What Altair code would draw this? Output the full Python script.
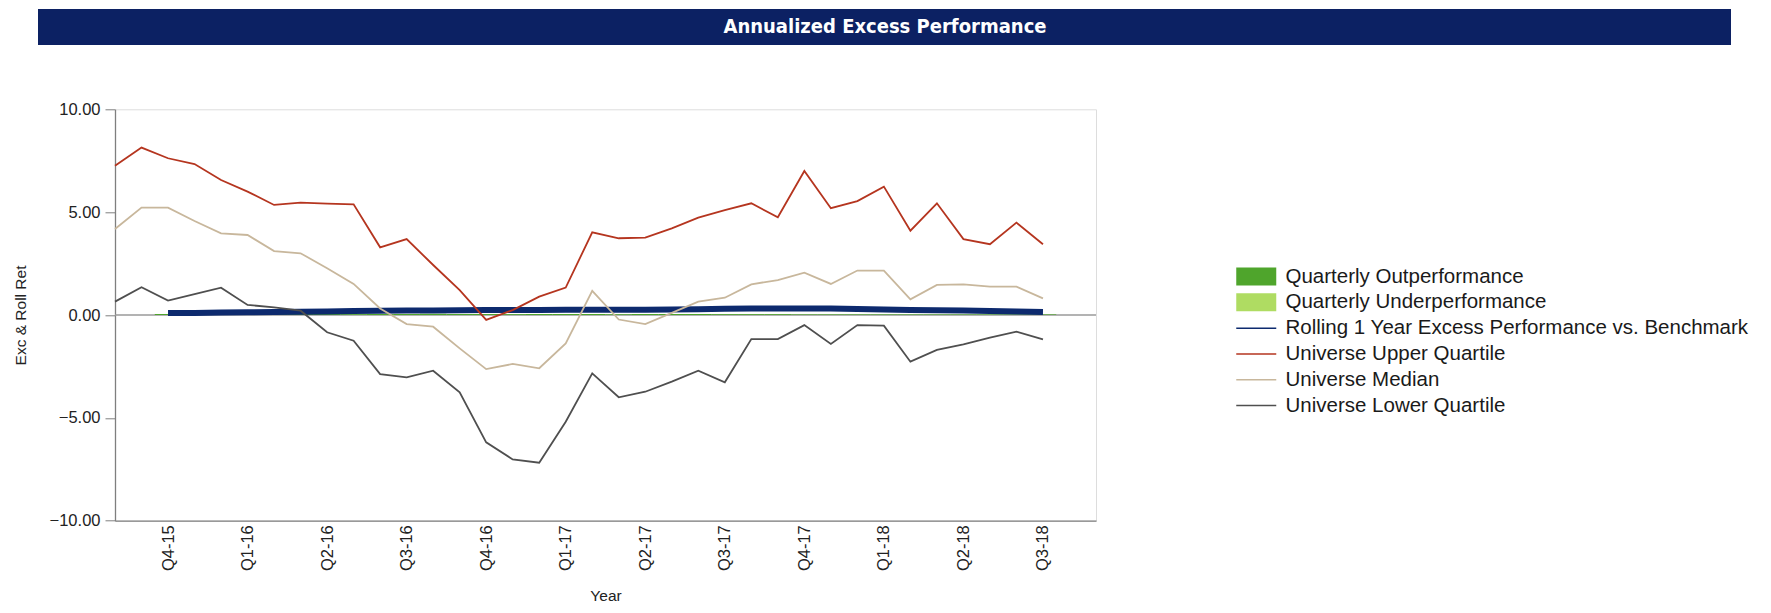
import altair as alt
import pandas as pd

# ---------------- data ----------------
quarter_labels = ["Q4-15", "Q1-16", "Q2-16", "Q3-16", "Q4-16", "Q1-17",
                  "Q2-17", "Q3-17", "Q4-17", "Q1-18", "Q2-18", "Q3-18"]
quarter_pos = [2, 5, 8, 11, 14, 17, 20, 23, 26, 29, 32, 35]

upper = [7.26, 8.14, 7.62, 7.34, 6.56, 6.00, 5.35, 5.46, 5.41, 5.38, 3.29, 3.69,
         2.43, 1.21, -0.24, 0.24, 0.89, 1.33, 4.02, 3.73, 3.76, 4.21, 4.73, 5.10,
         5.43, 4.75, 7.00, 5.19, 5.54, 6.24, 4.10, 5.43, 3.69, 3.44, 4.49, 3.44]
median = [4.18, 5.22, 5.22, 4.57, 3.97, 3.89, 3.11, 3.00, 2.27, 1.51, 0.32, -0.44,
          -0.57, -1.62, -2.63, -2.38, -2.59, -1.38, 1.17, -0.22, -0.44, 0.10, 0.65, 0.84,
          1.49, 1.70, 2.06, 1.51, 2.16, 2.16, 0.76, 1.46, 1.49, 1.38, 1.38, 0.81]
lower = [0.65, 1.35, 0.70, 1.02, 1.33, 0.49, 0.37, 0.21, -0.84, -1.25, -2.87, -3.03,
         -2.71, -3.76, -6.19, -7.02, -7.18, -5.19, -2.84, -4.00, -3.73, -3.24, -2.71, -3.27,
         -1.17, -1.17, -0.49, -1.41, -0.49, -0.52, -2.27, -1.70, -1.43, -1.10, -0.81, -1.18]
rolling_start = 2
rolling = [0.10, 0.10, 0.12, 0.13, 0.14, 0.16, 0.17, 0.19, 0.21, 0.22, 0.22, 0.23,
           0.24, 0.24, 0.24, 0.25, 0.25, 0.26, 0.26, 0.27, 0.28, 0.30, 0.32, 0.31,
           0.32, 0.31, 0.29, 0.27, 0.24, 0.23, 0.22, 0.20, 0.17, 0.15]
quarterly_excess = [0.05, 0.05, 0.04, 0.05, 0.06, 0.05, 0.05, 0.04, 0.05, 0.05, 0.06, 0.05,
                    0.05, 0.04, 0.05, 0.05, 0.05, 0.04, 0.05, 0.05, 0.05, 0.04, 0.04, 0.04,
                    0.03, 0.03, 0.03, 0.03, 0.03, 0.03, 0.03, 0.03, 0.03, 0.03]

SERIES = ["Quarterly Outperformance", "Quarterly Underperformance",
          "Rolling 1 Year Excess Performance vs. Benchmark",
          "Universe Upper Quartile", "Universe Median", "Universe Lower Quartile"]
COLORS = ["#4fa52c", "#afdc62", "#0d2a6e", "#b5351f", "#c8b79c", "#4f4f4f"]
RECT = "M-2,-0.9H2V0.9H-2Z"
LINE = "M-2,-0.075H2V0.075H-2Z"
SHAPES = [RECT, RECT, LINE, LINE, LINE, LINE]

TITLE = "Annualized Excess Performance"

# ---------------- tables ----------------
rows = []
for name, vals, start in [(SERIES[3], upper, 0), (SERIES[4], median, 0),
                          (SERIES[5], lower, 0), (SERIES[2], rolling, rolling_start)]:
    for i, v in enumerate(vals):
        rows.append({"idx": start + i, "value": v, "series": name})
lines_df = pd.DataFrame(rows)

bars_df = pd.DataFrame({
    "idx": [rolling_start + i for i in range(len(quarterly_excess))],
    "value": quarterly_excess,
})
bars_df["series"] = [SERIES[0] if v >= 0 else SERIES[1] for v in bars_df["value"]]

W, H = 981, 411.4
FONT = "Liberation Sans"

xscale = alt.Scale(domain=[0, 37], nice=False, zero=False)
yscale = alt.Scale(domain=[-10, 10], nice=False)
cscale = alt.Scale(domain=SERIES, range=COLORS)
sscale = alt.Scale(domain=SERIES, range=SHAPES)

label_expr = ("[" + ",".join(f"'{l}'" for l in quarter_labels) + "]"
              "[indexof([" + ",".join(str(p) for p in quarter_pos) + "], datum.value)]")

x_axis = alt.Axis(values=quarter_pos, labelExpr=label_expr, labelAngle=270,
                  labelAlign="right", labelBaseline="middle", labelFont=FONT,
                  labelFontSize=16.5, labelColor="#222222", labelPadding=4,
                  ticks=False, tickSize=0, labelFlush=False, grid=False,
                  domainColor="#7f7f7f", domainWidth=1.3, title="Year", titleFont=FONT,
                  titleFontSize=15.5, titleFontWeight="normal", titleColor="#222222",
                  titleX=W / 2, titleY=75, titleBaseline="middle", titleAlign="center")
y_axis = alt.Axis(values=[-10, -5, 0, 5, 10], format=".2f", labelFont=FONT,
                  labelFontSize=16.5, labelColor="#222222", tickSize=10,
                  tickColor="#7f7f7f", domainColor="#7f7f7f", domainWidth=1.3,
                  labelPadding=5, labelFlush=False, grid=False, title="Exc & Roll Ret",
                  titleFont=FONT, titleFontSize=15.5, titleFontWeight="normal",
                  titleColor="#222222", titleX=-95, titleY=H / 2, titleAngle=270,
                  titleBaseline="middle", titleAlign="center")

banner_df = pd.DataFrame({"t": [TITLE]})
banner = alt.Chart(banner_df).mark_rect(color="#0c2163").encode(
    x=alt.value(-77), x2=alt.value(1616), y=alt.value(-100.3), y2=alt.value(-64.3))
banner_text = alt.Chart(banner_df).mark_text(
    color="white", font="Liberation Sans Narrow, DejaVu Sans Condensed, Liberation Sans, Arial",
    fontSize=20, fontWeight="bold", align="center", baseline="middle").encode(
    x=alt.value(770), y=alt.value(-82.3), text="t:N")

zero_rule = alt.Chart(banner_df).mark_rule(color="#9a9a9a", strokeWidth=1.5).encode(
    y=alt.datum(0, scale=yscale))


def bar_layer(name, color, axes=False):
    xkw = {"axis": x_axis} if axes else {}
    ykw = {"axis": y_axis} if axes else {}
    return alt.Chart(bars_df).transform_filter(alt.datum.series == name).transform_calculate(
        x0="datum.idx - 0.5", x1="datum.idx + 0.5").mark_bar(color=color).encode(
        x=alt.X("x0:Q", scale=xscale, **xkw),
        x2="x1:Q",
        y=alt.Y("value:Q", scale=yscale, **ykw),
        y2=alt.datum(0))


bars_out = bar_layer(SERIES[0], COLORS[0], axes=True)
bars_under = bar_layer(SERIES[1], COLORS[1])


def line_layer(name, color, width):
    return alt.Chart(lines_df).transform_filter(
        alt.datum.series == name).mark_line(color=color, strokeWidth=width).encode(
        x=alt.X("idx:Q", scale=xscale),
        y=alt.Y("value:Q", scale=yscale))


navy = line_layer(SERIES[2], COLORS[2], 6)
low = line_layer(SERIES[5], COLORS[5], 1.8)
med = line_layer(SERIES[4], COLORS[4], 1.8)
up = line_layer(SERIES[3], COLORS[3], 1.8)

legend = alt.Legend(title=None, orient="none", legendX=1131, legendY=157,
                    symbolSize=400, symbolStrokeWidth=0, symbolOpacity=1,
                    labelFont=FONT, labelFontSize=20.5, labelColor="#1a1a1a",
                    labelOffset=19, rowPadding=4.8, padding=0, labelLimit=700)
# a point layer with no rows: it draws nothing and only carries the
# (colour + shape) legend, whose entries come from the explicit scale domain
legend_layer = alt.Chart(lines_df).transform_filter("false").mark_point(
    filled=True, opacity=1).encode(
    x=alt.X("idx:Q", scale=xscale),
    y=alt.Y("value:Q", scale=yscale),
    color=alt.Color("series:N", scale=cscale, legend=legend),
    shape=alt.Shape("series:N", scale=sscale, legend=legend))

chart = alt.layer(banner, banner_text, zero_rule, bars_out, bars_under, navy, low, med, up,
                  legend_layer).properties(
    width=W, height=H,
    autosize=alt.AutoSizeParams(type="none"),
    padding={"left": 107, "top": 101.3, "right": 660, "bottom": 84.3},
).configure_view(stroke="#7f7f7f", strokeWidth=1.4).configure(background="white")

chart.save("out.html", embed_options={"renderer": "svg", "actions": False})
